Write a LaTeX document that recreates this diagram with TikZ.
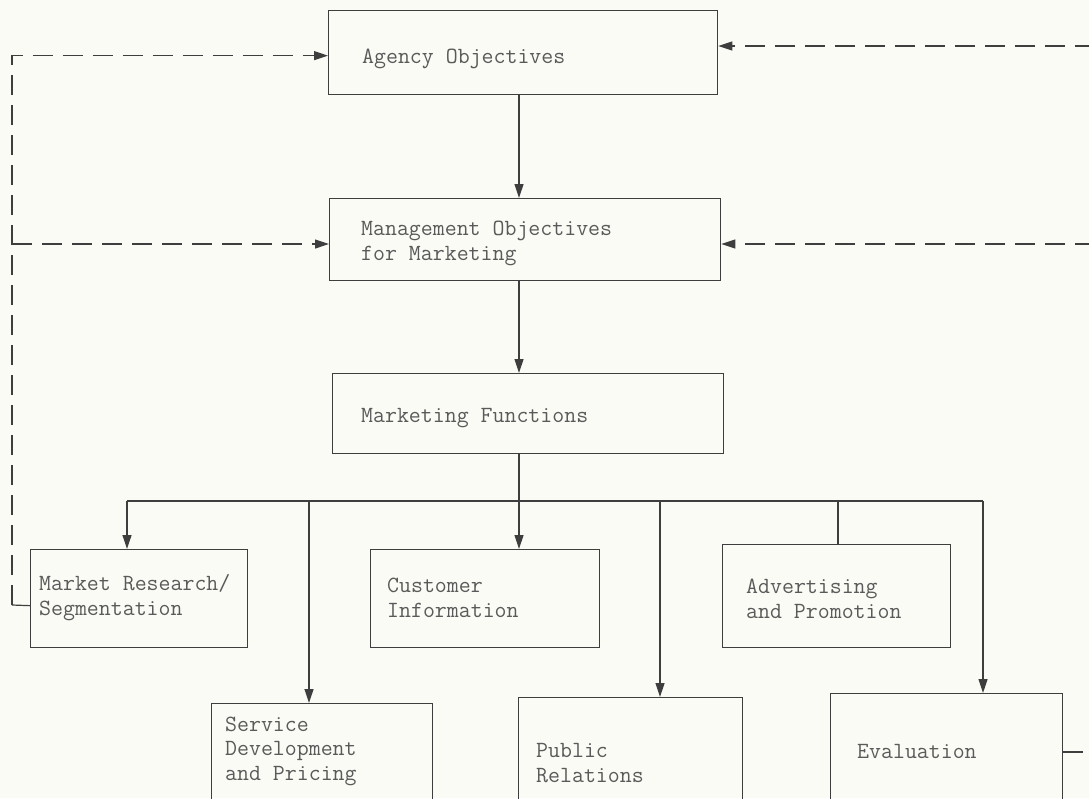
\documentclass[tikz,border=0pt]{standalone}
\usetikzlibrary{arrows.meta}

\definecolor{paper}{RGB}{251,251,246}
\definecolor{ink}{RGB}{62,62,62}
\definecolor{txtgray}{RGB}{90,90,90}

\tikzset{
  fbox/.style={draw=ink, line width=1.3pt, anchor=north west, inner sep=0pt},
  ftext/.style={font=\ttfamily\fontsize{23.2}{24.5}\selectfont, text=txtgray,
    anchor=base west, align=left, inner sep=0pt},
  wire/.style={draw=ink, line width=1.2pt},
  arr/.style={wire, -{Triangle[length=14pt,width=9pt]}},
  fb/.style={arr, dash pattern=on 20pt off 10pt}
}

\begin{document}
\begin{tikzpicture}[x=1pt, y=-1pt]
  \fill[paper] (0,0) rectangle (1089,798);
  \useasboundingbox (0,0) rectangle (1089,798);
  \clip (0,0) rectangle (1089,798);

  % upper chain
  \node[fbox, minimum width=389pt, minimum height=84pt] (agency) at (328,10) {};
  \node[fbox, minimum width=391pt, minimum height=82pt] (mgmt) at (329,198) {};
  \node[fbox, minimum width=391pt, minimum height=80pt] (mkt) at (332,373) {};
  \node[ftext] (agencytxt) at (362,63) {Agency Objectives};
  \node[ftext] (mgmttxt) at (361,260) {Management Objectives\\for Marketing};
  \node[ftext] (mkttxt) at (361,422) {Marketing Functions};

  % first row of functions
  \node[fbox, minimum width=217pt, minimum height=98pt] (research) at (30,549) {};
  \node[fbox, minimum width=229pt, minimum height=98pt] (customer) at (370,549) {};
  \node[fbox, minimum width=228pt, minimum height=103pt] (advert) at (722,544) {};
  \node[ftext] (researchtxt) at (39,615) {Market Research/\\Segmentation};
  \node[ftext] (customertxt) at (387,617) {Customer\\Information};
  \node[ftext] (adverttxt) at (746,618) {Advertising\\and Promotion};

  % second row, running off the page
  \node[fbox, minimum width=221pt, minimum height=200pt] (service) at (211,703) {};
  \node[fbox, minimum width=224pt, minimum height=200pt] (public) at (518,697) {};
  \node[fbox, minimum width=232pt, minimum height=200pt] (evaluation) at (830,693) {};
  \node[ftext] (servicetxt) at (225,780) {Service\\Development\\and Pricing};
  \node[ftext] (publictxt) at (536,782) {Public\\Relations};
  \node[ftext] (evaltxt) at (857,758) {Evaluation};

  \coordinate (spine) at (519,0);
  \coordinate (busl) at (127,501);
  \coordinate (busr) at (983,501);

  \draw[arr] (agency.south -| spine) -- (mgmt.north -| spine);
  \draw[arr] (mgmt.south -| spine) -- (mkt.north -| spine);
  \draw[wire] (mkt.south -| spine) -- (busl -| spine);
  \draw[wire] (busl) -- (busr);
  \foreach \x/\n in {127/research,309/service,519/customer,660/public,983/evaluation}
    \draw[arr] (\x,501) -- (\x,501 |- \n.north);
  \draw[wire] (838,501) -- (838,501 |- advert.north);

  % feedback loops
  \coordinate (fbl) at (12,605);
  \coordinate (rtop) at (1095,46);
  \coordinate (rmid) at (1095,244);
  \coordinate (rlow) at (1095,752);
  \draw[wire] ([yshift=-7pt]research.west) -- (fbl);
  \draw[fb] (fbl) |- ([yshift=-3pt]agency.west);
  \draw[fb] (fbl |- rmid) -- (mgmt.west |- rmid);
  \draw[fb] (rtop) -- (agency.east |- rtop);
  \draw[fb] (rmid) -- (mgmt.east |- rmid);
  \draw[wire, dash pattern=on 20pt off 10pt] (evaluation.east |- rlow) -- (rlow);
\end{tikzpicture}
\end{document}
